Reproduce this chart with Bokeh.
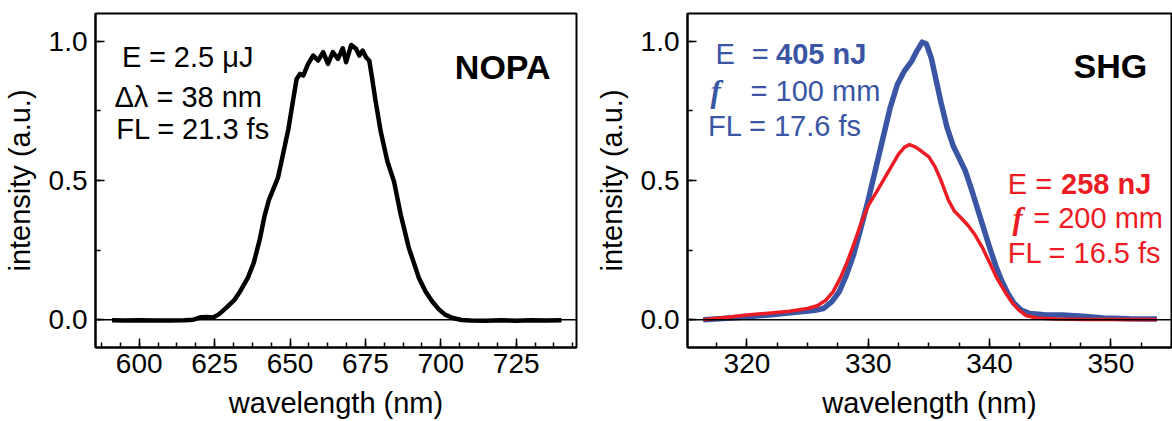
from bokeh.plotting import figure
from bokeh.layouts import row
from bokeh.models import Range1d, SingleIntervalTicker, PrintfTickFormatter, Span, Label
from bokeh.embed import file_html
from bokeh.resources import INLINE

# ---------------- data ----------------
nopa_wl = [591, 595, 600, 605, 610, 615, 618, 620.5, 622.5, 624.5, 626.5, 629, 631.5,
           633.6, 636, 638, 640, 641.5, 643, 644.5, 646, 647.3, 649.5, 651.1, 652.2, 653.3,
           654.4, 656.0, 657.7, 659.3, 661.0, 662.6, 664.2, 665.9, 667.5, 668.6, 670.3,
           671.9, 673.0, 674.1, 675.2, 676.3, 677.2, 678.3, 680.1, 682.3, 684.5, 686.7, 689.4,
           692.7, 695, 697.1, 699.3, 701.4, 704, 706.9, 710, 715, 720, 725, 730, 735, 740]
nopa_int = [-0.002, -0.003, -0.002, -0.003, -0.003, -0.002, 0.0, 0.009, 0.01, 0.008, 0.02,
            0.044, 0.07, 0.104, 0.15, 0.205, 0.29, 0.37, 0.43, 0.47, 0.51, 0.575, 0.687, 0.794,
            0.865, 0.883, 0.877, 0.919, 0.949, 0.931, 0.961, 0.919, 0.961, 0.937, 0.975,
            0.925, 0.987, 0.973, 0.949, 0.967, 0.943, 0.93, 0.87, 0.79, 0.675, 0.568, 0.496,
            0.378, 0.258, 0.151, 0.1, 0.066, 0.038, 0.018, 0.006, -0.001, -0.003, -0.004,
            -0.002, -0.004, -0.002, -0.003, -0.002]

shg_blue_wl = [316.4, 318, 320, 322, 324, 325.5, 326.3, 327.0, 327.6, 328.2, 328.8, 329.4,
               330.0, 330.6, 331.2, 331.8, 332.4, 333.0, 333.6, 334.0, 334.45, 334.8, 335.2,
               335.6, 336.0, 336.5, 337.0, 337.5, 338.0, 338.5, 339.0, 339.5, 340.0, 340.5,
               341.0, 341.5, 342.0, 342.6, 343.3, 344.5, 346.0, 347.7, 349.4, 351.5, 353.8]
shg_blue_int = [0.0, 0.004, 0.01, 0.018, 0.027, 0.033, 0.04, 0.065, 0.1, 0.16, 0.235, 0.33,
                0.43, 0.54, 0.65, 0.76, 0.845, 0.895, 0.93, 0.965, 0.997, 0.99, 0.94,
                0.86, 0.78, 0.69, 0.625, 0.58, 0.535, 0.47, 0.4, 0.33, 0.26, 0.195,
                0.14, 0.095, 0.06, 0.035, 0.022, 0.018, 0.017, 0.012, 0.006, 0.003, 0.002]

shg_red_wl = [316.4, 318, 320, 322, 323.5, 325, 325.8, 326.5, 327.1, 327.7, 328.2, 328.8,
              329.4, 330.0, 330.7, 331.3, 331.9, 332.5, 333.0, 333.4, 333.9, 334.4, 335.0,
              335.5, 336.0, 336.6, 337.1, 337.6, 338.2, 338.8, 339.4, 340.0, 340.6, 341.2,
              341.8, 342.4, 343.0, 343.9, 345.5, 348, 351, 353.8]
shg_red_int = [0.0, 0.007, 0.017, 0.024, 0.03, 0.04, 0.05, 0.07, 0.1, 0.15, 0.2, 0.27,
               0.345, 0.41, 0.46, 0.505, 0.55, 0.595, 0.62, 0.629, 0.62, 0.605, 0.585,
               0.55, 0.5, 0.43, 0.39, 0.368, 0.34, 0.305, 0.26, 0.205, 0.15, 0.105,
               0.065, 0.035, 0.015, 0.006, 0.002, 0.001, 0.001, 0.001]

FONT = "Liberation Sans"
SERIF = "Liberation Serif"
BLUE = "#3a55a4"
RED = "#ed1c24"


def make_fig(xr, x_interval, mb):
    p = figure(width=586, height=421, x_range=Range1d(*xr), y_range=Range1d(-0.1, 1.1),
               output_backend="svg", toolbar_location=None,
               min_border_left=mb[0], min_border_right=mb[1],
               min_border_top=mb[2], min_border_bottom=mb[3])
    p.grid.visible = False
    p.outline_line_color = "black"
    p.outline_line_width = 2
    p.outline_line_alpha = 1
    p.background_fill_color = "white"
    p.border_fill_color = "white"
    p.xaxis.ticker = SingleIntervalTicker(interval=x_interval, num_minor_ticks=4)
    p.yaxis.ticker = SingleIntervalTicker(interval=0.5, num_minor_ticks=2)
    p.yaxis.formatter = PrintfTickFormatter(format="%.1f")
    for ax in (p.xaxis[0], p.yaxis[0]):
        ax.axis_line_width = 2
        ax.major_tick_in = 9
        ax.major_tick_out = 0
        ax.minor_tick_in = 5
        ax.minor_tick_out = 0
        ax.major_tick_line_width = 1.5
        ax.minor_tick_line_width = 1.5
        ax.major_label_text_font = FONT
        ax.major_label_text_font_size = "28px"
        ax.major_label_text_color = "black"
        ax.axis_label_text_font = FONT
        ax.axis_label_text_font_size = "29px"
        ax.axis_label_text_font_style = "normal"
        ax.axis_label_text_color = "black"
    p.xaxis.axis_label = "wavelength (nm)"
    p.yaxis.axis_label = "intensity (a.u.)"
    p.xaxis.major_label_standoff = 6
    p.xaxis.axis_label_standoff = 11
    p.yaxis.major_label_standoff = 8
    p.yaxis.axis_label_standoff = 10
    p.add_layout(Span(location=0, dimension="width", line_color="black", line_width=1.5))
    return p


def lab(p, x, y, text, color="black", size="29px", font=FONT, style="normal", align="left"):
    p.add_layout(Label(x=x, y=y, text=text, text_color=color, text_font=font,
                       text_font_size=size, text_font_style=style, text_align=align,
                       text_baseline="alphabetic"))


# ---------------- left: NOPA ----------------
p1 = make_fig((585.5, 745), 25, (90, 10, 12, 74))
p1.line(nopa_wl, nopa_int, line_color="black", line_width=4.5, line_join="round")
lab(p1, 594.3, 0.943, "E")
lab(p1, 603.2, 0.943, "= 2.5 μJ")
lab(p1, 591.8, 0.80, "Δλ = 38 nm")
lab(p1, 592.4, 0.686, "FL = 21.3 fs")
lab(p1, 736.4, 0.907, "NOPA", size="34px", style="bold", align="right")

# ---------------- right: SHG ----------------
p2 = make_fig((315.1, 355), 10, (101, 1, 13, 72))
p2.line(shg_blue_wl, shg_blue_int, line_color=BLUE, line_width=5.5, line_join="round")
p2.line(shg_red_wl, shg_red_int, line_color=RED, line_width=3.5, line_join="round")
lab(p2, 317.4, 0.954, "E", color=BLUE)
lab(p2, 320.4, 0.954, "=", color=BLUE)
lab(p2, 322.4, 0.954, "405 nJ", color=BLUE, style="bold")
lab(p2, 317.0, 0.821, "f", color=BLUE, size="31px", font=SERIF, style="bold italic")
lab(p2, 320.3, 0.821, "= 100 mm", color=BLUE)
lab(p2, 316.8, 0.696, "FL = 17.6 fs", color=BLUE)
lab(p2, 353.0, 0.911, "SHG", size="34px", style="bold", align="right")
lab(p2, 341.5, 0.489, "E =", color=RED)
lab(p2, 345.9, 0.489, "258 nJ", color=RED, style="bold")
lab(p2, 341.9, 0.364, "f", color=RED, size="31px", font=SERIF, style="bold italic")
lab(p2, 343.6, 0.364, "= 200 mm", color=RED)
lab(p2, 341.5, 0.239, "FL = 16.5 fs", color=RED)

layout = row(p1, p2)
open("out.html", "w").write(file_html(layout, INLINE))
